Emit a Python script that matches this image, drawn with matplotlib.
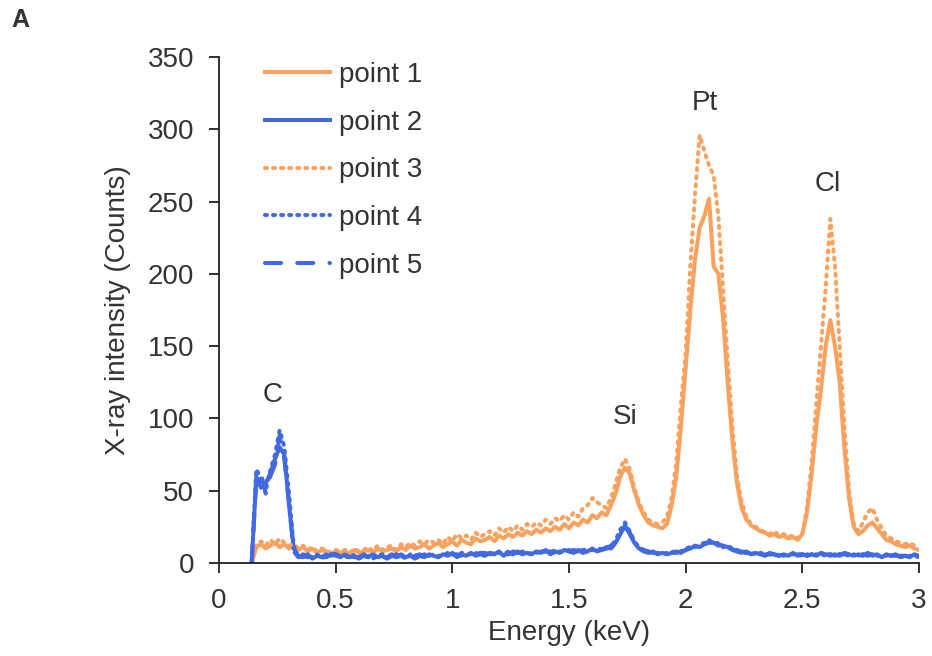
import numpy as np
import matplotlib
matplotlib.use("Agg")
import matplotlib.pyplot as plt

plt.rcParams['font.family'] = ['Liberation Sans', 'DejaVu Sans']

# Energy channels (keV)
energy = np.round(np.arange(0.14, 3.0001, 0.02), 2)

point1 = [
    0, 11, 13, 10, 12, 14, 11, 13, 10, 12,
    9, 11, 8, 10, 7, 9, 8, 6, 8, 7,
    8, 6, 9, 7, 8, 9, 7, 10, 8, 9,
    10, 8, 11, 9, 12, 10, 11, 13, 10, 12,
    14, 11, 13, 15, 12, 16, 14, 13, 17, 15,
    16, 18, 15, 19, 17, 20, 18, 21, 19, 22,
    20, 23, 21, 24, 22, 25, 23, 27, 24, 28,
    26, 30, 28, 33, 31, 35, 33, 40, 48, 60,
    66, 62, 50, 40, 33, 28, 26, 25, 24, 27,
    40, 60, 95, 135, 175, 210, 232, 240, 252, 205,
    200, 170, 125, 85, 55, 38, 30, 26, 24, 22,
    21, 19, 20, 18, 19, 17, 18, 16, 20, 35,
    62, 95, 120, 150, 168, 150, 125, 80, 45, 25,
    20, 22, 26, 28, 24, 20, 16, 15, 13, 12,
    11, 12, 10, 9,
]

point2 = [
    0, 60, 52, 55, 62, 72, 80, 75, 40, 10,
    5, 4, 6, 3, 5, 4, 6, 5, 7, 4,
    6, 4, 5, 3, 5, 4, 6, 4, 5, 3,
    5, 4, 6, 4, 5, 3, 5, 4, 6, 5,
    4, 6, 5, 7, 4, 6, 5, 7, 5, 6,
    5, 7, 6, 8, 5, 7, 6, 8, 6, 7,
    6, 8, 7, 9, 6, 8, 7, 9, 8, 7,
    9, 7, 8, 10, 8, 9, 11, 10, 14, 20,
    26, 20, 14, 10, 8, 7, 8, 6, 7, 6,
    7, 8, 7, 9, 10, 12, 11, 13, 15, 14,
    13, 12, 11, 9, 8, 7, 8, 6, 7, 6,
    5, 7, 6, 5, 6, 5, 7, 5, 6, 5,
    6, 5, 7, 6, 5, 6, 5, 7, 6, 5,
    6, 5, 7, 5, 6, 4, 6, 5, 6, 4,
    5, 4, 6, 5,
]

point3 = [
    0, 13, 15, 12, 16, 13, 17, 14, 12, 13,
    10, 12, 9, 11, 8, 10, 9, 7, 9, 8,
    9, 7, 10, 8, 9, 11, 8, 12, 9, 11,
    12, 9, 13, 11, 14, 12, 15, 13, 16, 14,
    16, 13, 18, 15, 20, 17, 19, 16, 21, 18,
    20, 22, 19, 24, 21, 25, 22, 26, 23, 27,
    25, 28, 26, 30, 27, 31, 29, 33, 30, 35,
    32, 38, 40, 45, 42, 40, 38, 45, 55, 66,
    72, 65, 52, 42, 35, 30, 28, 27, 28, 32,
    45, 70, 110, 145, 205, 255, 296, 285, 275, 268,
    240, 190, 140, 95, 60, 42, 32, 27, 25, 23,
    21, 20, 22, 19, 20, 18, 19, 17, 20, 38,
    70, 110, 150, 190, 238, 205, 150, 95, 50, 27,
    22, 28, 35, 38, 30, 24, 19, 17, 15, 14,
    13, 14, 12, 11,
]

point4 = [
    0, 65, 58, 50, 64, 75, 92, 80, 48, 12,
    4, 6, 5, 4, 6, 3, 5, 6, 4, 5,
    5, 3, 6, 4, 4, 5, 3, 5, 6, 4,
    4, 6, 5, 3, 6, 4, 4, 6, 5, 6,
    5, 5, 7, 6, 5, 7, 6, 6, 7, 5,
    6, 6, 7, 7, 6, 8, 7, 7, 8, 6,
    7, 7, 8, 8, 7, 9, 8, 8, 9, 8,
    8, 8, 9, 9, 9, 10, 10, 11, 16, 23,
    28, 22, 15, 11, 9, 8, 7, 7, 6, 7,
    8, 7, 8, 10, 11, 11, 12, 14, 16, 13,
    14, 11, 12, 10, 9, 8, 7, 7, 6, 7,
    6, 6, 5, 6, 5, 6, 6, 6, 5, 6,
    5, 6, 6, 5, 6, 5, 6, 6, 5, 6,
    5, 6, 6, 6, 5, 5, 5, 6, 5, 5,
    4, 5, 5, 4,
]

point5 = [
    0, 58, 62, 48, 60, 68, 88, 72, 42, 8,
    4, 5, 4, 5, 4, 5, 4, 6, 5, 5,
    4, 5, 4, 4, 6, 4, 5, 5, 4, 4,
    6, 5, 4, 5, 4, 5, 6, 5, 5, 6,
    6, 5, 6, 6, 6, 5, 7, 6, 6, 7,
    7, 6, 7, 7, 7, 6, 8, 7, 7, 8,
    8, 7, 8, 8, 8, 7, 9, 8, 8, 9,
    8, 9, 9, 9, 10, 9, 10, 12, 15, 21,
    25, 21, 15, 10, 9, 8, 7, 7, 7, 6,
    7, 7, 8, 9, 11, 12, 12, 13, 14, 14,
    12, 12, 10, 10, 8, 8, 7, 7, 7, 6,
    6, 6, 6, 5, 6, 6, 5, 6, 6, 5,
    6, 6, 5, 6, 6, 5, 6, 6, 5, 6,
    5, 6, 5, 6, 5, 5, 6, 5, 5, 5,
    5, 5, 4, 5,
]

series_labels = ["point 1", "point 2", "point 3", "point 4", "point 5"]
x_ticks = [0, 0.5, 1, 1.5, 2, 2.5, 3]
x_tick_labels = ["0", "0.5", "1", "1.5", "2", "2.5", "3"]
y_ticks = [0, 50, 100, 150, 200, 250, 300, 350]
peak_names = ["C", "Si", "Pt", "Cl"]
peak_x = [0.23, 1.74, 2.08, 2.61]
peak_y = [116, 101, 318, 262]

orange = "#F9A15E"
blue = "#4169E1"
text_color = "#333333"

fig = plt.figure(figsize=(9.32, 6.56), dpi=100)
ax = fig.add_axes([219 / 932, 1 - 563 / 656, 700 / 932, 506 / 656])

lw = 2.9
ax.plot(energy, point1, color=orange, lw=lw, solid_joinstyle="round", label=series_labels[0])
ax.plot(energy, point2, color=blue, lw=lw, solid_joinstyle="round", label=series_labels[1])
ax.plot(energy, point3, color=orange, lw=lw, linestyle=(0, (0.5, 1.5)), dash_capstyle="round",
        label=series_labels[2])
ax.plot(energy, point4, color=blue, lw=lw, linestyle=(0, (0.5, 1.5)), dash_capstyle="round",
        label=series_labels[3])
ax.plot(energy, point5, color=blue, lw=lw, linestyle=(0, (4.0, 4.0)), dash_capstyle="round",
        label=series_labels[4])

ax.set_xlim(0, 3)
ax.set_ylim(0, 350)
ax.set_xticks(x_ticks)
ax.set_xticklabels(x_tick_labels)
ax.set_yticks(y_ticks)

for s in ["top", "right"]:
    ax.spines[s].set_visible(False)
for s in ["left", "bottom"]:
    ax.spines[s].set_color("#222222")
    ax.spines[s].set_linewidth(1.3)

ax.tick_params(axis="both", direction="out", length=7, width=1.3, colors="#222222",
               labelsize=20, labelcolor=text_color, pad=11)

ax.set_xlabel("Energy (keV)", fontsize=20, color=text_color, labelpad=4)
ax.set_ylabel("X-ray intensity (Counts)", fontsize=20, color=text_color, labelpad=12)

for name, px, py in zip(peak_names, peak_x, peak_y):
    ax.text(px, py, name, fontsize=20, color=text_color, ha="center", va="center")

leg = ax.legend(loc="upper left", bbox_to_anchor=(0.066, 0.99), frameon=False,
                fontsize=20, handlelength=2.35, handletextpad=0.3, labelspacing=0.78,
                borderpad=0, borderaxespad=0)
for t in leg.get_texts():
    t.set_color(text_color)

fig.text(11 / 932, 1 - 20 / 656, "A", fontsize=18, fontweight="bold", color=text_color,
         ha="left", va="center")

fig.savefig("out.png", dpi=100)
